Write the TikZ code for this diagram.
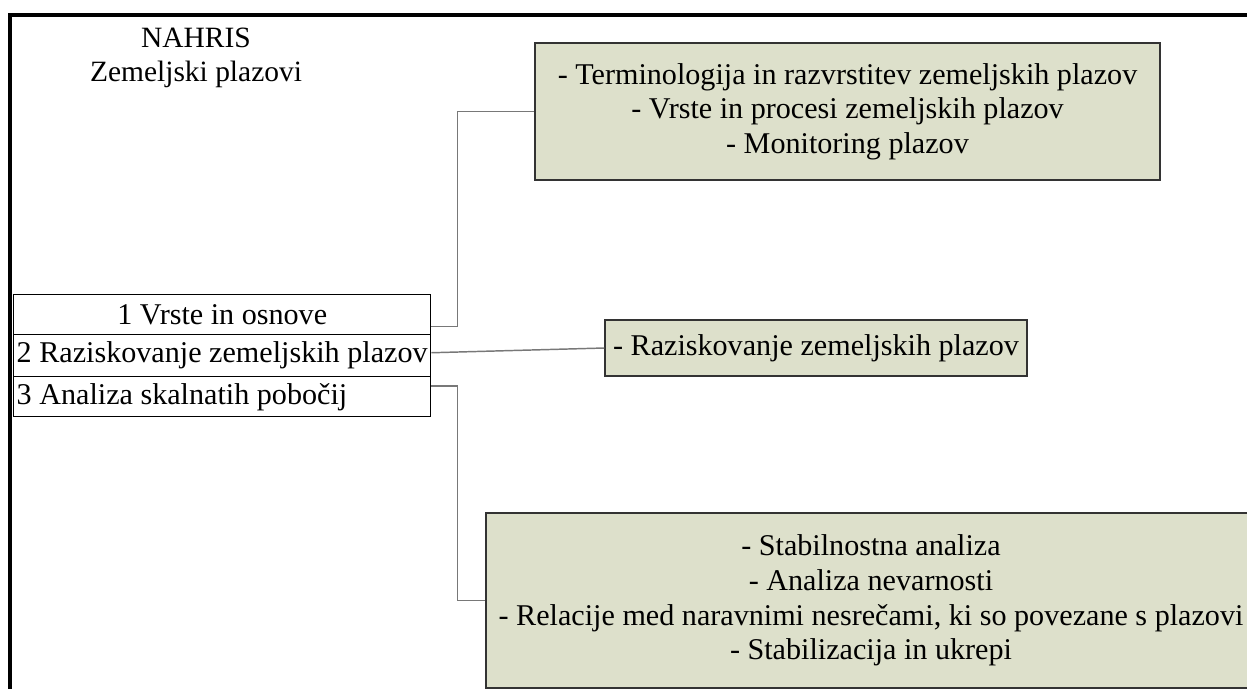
\documentclass[tikz,border=0pt]{standalone}
\usepackage{fontspec}
\setmainfont{Liberation Serif}
\usetikzlibrary{calc}
\definecolor{boxgreen}{RGB}{221,224,203}
\definecolor{linkgray}{RGB}{120,120,120}
\tikzset{
  txt/.style={font=\fontsize{22.6}{26}\selectfont},
  topic/.style={draw=black!80, line width=0.9pt, fill=boxgreen, align=center, inner sep=0pt, txt},
  rowbox/.style={draw=black, line width=1.1pt, minimum width=417*0.75pt, inner xsep=0pt, inner ysep=2pt, txt},
  link/.style={draw=linkgray, line width=1.1pt},
}
\newcommand{\lefttext}[1]{\makebox[308.25pt][l]{#1}}
\begin{document}
\begin{tikzpicture}[x=0.75pt, y=-0.75pt]
\useasboundingbox (0,0) rectangle (1247,689);
\fill[white] (0,0) rectangle (1247,689);
% frame
\draw[line width=2.4pt] (10,700) -- (10,15) -- (1260,15);
% title
\node[font=\fontsize{22.1}{26}\selectfont, align=center] (title) at (196,58) {NAHRIS\\Zemeljski plazovi};
% left list
\node[rowbox, minimum height=40*0.75pt, anchor=north west] (row1) at (13,294) {1 Vrste in osnove};
\node[rowbox, minimum height=42*0.75pt, anchor=north west] (row2) at (13,334) {\lefttext{2 Raziskovanje zemeljskih plazov}};
\node[rowbox, minimum height=40*0.75pt, anchor=north west] (row3) at (13,376) {\lefttext{3 Analiza skalnatih pobo\v{c}ij}};
% topic boxes
\node[topic, minimum width=625*0.75pt, minimum height=137*0.75pt] (box1) at (847.5,111.5)
  {- Terminologija in razvrstitev zemeljskih plazov\\- Vrste in procesi zemeljskih plazov\\- Monitoring plazov};
\node[topic, minimum width=422*0.75pt, minimum height=56*0.75pt] (box2) at (816,348)
  {- Raziskovanje zemeljskih plazov};
\node[topic, minimum width=770*0.75pt, minimum height=175*0.75pt] (box3) at (871,600.5)
  {- Stabilnostna analiza\\- Analiza nevarnosti\\- Relacije med naravnimi nesre\v{c}ami, ki so povezane s plazovi\\- Stabilizacija in ukrepi};
% connectors
\draw[link] ($(row1.south east)+(0,-9)$) -- ++(26,0) |- (box1.west);
\draw[link] ($(row2.east)+(0,-3)$) -- (box2.west);
\draw[link] ($(row3.north east)+(0,10)$) -- ++(26,0) |- (box3.west);
\end{tikzpicture}
\end{document}
